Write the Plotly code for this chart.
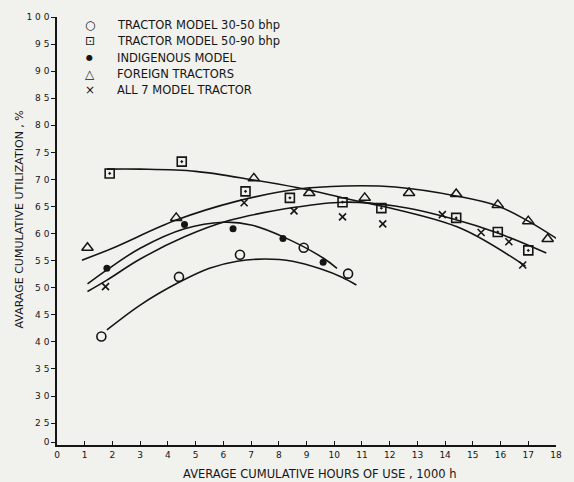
import plotly.graph_objects as go

# ---------------- data ----------------
# Tractor model 30-50 bhp (open circles)
t3050_x = [1.6, 4.4, 6.6, 8.9, 10.5]
t3050_y = [41.0, 52.0, 56.1, 57.4, 52.6]
t3050_fit_x = [1.8, 3.0, 4.4, 5.5, 6.5, 7.5, 8.5, 9.5, 10.3, 10.8]
t3050_fit_y = [42.2, 46.8, 51.0, 53.6, 54.9, 55.3, 54.9, 53.5, 51.9, 50.5]

# Tractor model 50-90 bhp (squares)
t5090_x = [1.9, 4.5, 6.8, 8.4, 10.3, 11.7, 14.4, 15.9, 17.0]
t5090_y = [71.1, 73.3, 67.8, 66.6, 65.8, 64.7, 62.9, 60.3, 56.9]
t5090_fit_x = [1.8, 3.0, 5.0, 7.1, 8.65, 10.5, 12.2, 14.6, 16.9]
t5090_fit_y = [71.9, 71.9, 71.5, 69.9, 68.5, 66.4, 64.5, 60.9, 54.0]

# Indigenous model (filled dots)
indig_x = [1.8, 4.6, 6.35, 8.15, 9.6]
indig_y = [53.6, 61.7, 60.9, 59.1, 54.7]
indig_fit_x = [1.1, 1.8, 3.0, 4.6, 6.0, 7.0, 8.2, 9.6, 10.1]
indig_fit_y = [50.7, 53.3, 57.3, 60.9, 62.1, 61.6, 59.3, 55.5, 53.6]

# Foreign tractors (open triangles)
foreign_x = [1.1, 4.3, 7.1, 9.1, 11.1, 12.7, 14.4, 15.9, 17.0, 17.7]
foreign_y = [57.4, 62.9, 70.2, 67.5, 66.6, 67.5, 67.3, 65.3, 62.3, 59.0]
foreign_fit_x = [0.9, 2.0, 4.3, 6.5, 8.65, 10.4, 12.2, 14.45, 15.9, 17.0, 18.2]
foreign_fit_y = [55.1, 57.3, 62.5, 66.0, 68.2, 68.8, 68.6, 66.9, 65.1, 62.3, 58.5]

# All 7 model tractor (crosses)
all7_x = [1.75, 6.75, 8.55, 10.3, 11.75, 13.9, 15.3, 16.3, 16.8]
all7_y = [50.2, 65.7, 64.2, 63.1, 61.8, 63.5, 60.2, 58.5, 54.2]
all7_fit_x = [1.1, 1.8, 3.0, 4.6, 6.2, 8.65, 10.3, 12.2, 14.3, 15.9, 17.65]
all7_fit_y = [49.3, 51.4, 55.3, 59.4, 62.4, 64.9, 65.8, 65.1, 62.7, 60.1, 56.4]

legend_symbols = ["○", "⊡", "●", "△", "×"]
legend_labels = ["TRACTOR MODEL 30-50 bhp", "TRACTOR MODEL 50-90 bhp",
                 "INDIGENOUS MODEL", "FOREIGN TRACTORS", "ALL 7 MODEL TRACTOR"]

y_tickvals = [21.5, 25, 30, 35, 40, 45, 50, 55, 60, 65, 70, 75, 80, 85, 90, 95, 100]
y_ticktext = ["0", "2 5", "3 0", "3 5", "4 0", "4 5", "5 0", "5 5", "6 0", "6 5",
              "7 0", "7 5", "8 0", "8 5", "9 0", "9 5", "1 0 0"]
x_tickvals = list(range(0, 19))

# ---------------- figure ----------------
INK = "#151515"
BG = "#f1f1ee"
FONT = "DejaVu Sans"

fig = go.Figure()

for fx, fy in [(t3050_fit_x, t3050_fit_y), (t5090_fit_x, t5090_fit_y),
               (indig_fit_x, indig_fit_y), (foreign_fit_x, foreign_fit_y),
               (all7_fit_x, all7_fit_y)]:
    fig.add_trace(go.Scatter(x=fx, y=fy, mode="lines",
                             line=dict(color=INK, width=1.6, shape="spline", smoothing=1.0),
                             hoverinfo="skip", showlegend=False))

fig.add_trace(go.Scatter(x=t3050_x, y=t3050_y, mode="markers", name=legend_labels[0],
                         marker=dict(symbol="circle-open", size=9, color=INK, line=dict(width=1.6))))
fig.add_trace(go.Scatter(x=t5090_x, y=t5090_y, mode="markers", name=legend_labels[1],
                         marker=dict(symbol="square-open-dot", size=9, color=INK, line=dict(width=1.6))))
fig.add_trace(go.Scatter(x=indig_x, y=indig_y, mode="markers", name=legend_labels[2],
                         marker=dict(symbol="circle", size=7, color=INK)))
fig.add_trace(go.Scatter(x=foreign_x, y=foreign_y, mode="markers", name=legend_labels[3],
                         marker=dict(symbol="triangle-up-open", size=10, color=INK, line=dict(width=1.5))))
fig.add_trace(go.Scatter(x=all7_x, y=all7_y, mode="markers", name=legend_labels[4],
                         marker=dict(symbol="x-thin-open", size=7, color=INK, line=dict(width=1.6, color=INK))))

# plot-area geometry (pixels)
W, H = 574, 482
L, R, T, B = 57, 12, 15, 37
PW, PH = W - L - R, H - T - B

def px(xp):
    return (xp - L) / PW

def py(yp):
    return 1 - (yp - T) / PH

annotations = []
rows_y = [23, 39, 56, 72, 88]
for sym, lab, ry in zip(legend_symbols, legend_labels, rows_y):
    annotations.append(dict(x=px(90), y=py(ry), xref="paper", yref="paper", text=sym,
                            showarrow=False, xanchor="center", yanchor="middle",
                            font=dict(family=FONT, size=12 if sym != "●" else 8, color=INK)))
    annotations.append(dict(x=px(116), y=py(ry), xref="paper", yref="paper", text=lab,
                            showarrow=False, xanchor="left", yanchor="middle",
                            font=dict(family=FONT, size=11.5, color=INK)))

annotations.append(dict(x=px(19), y=py(218), xref="paper", yref="paper",
                        text="AVARAGE CUMULATIVE UTILIZATION , %", textangle=-90,
                        showarrow=False, xanchor="center", yanchor="middle",
                        font=dict(family=FONT, size=11, color=INK)))
annotations.append(dict(x=px(323), y=py(474), xref="paper", yref="paper",
                        text="AVERAGE CUMULATIVE HOURS OF USE , 1000 h",
                        showarrow=False, xanchor="center", yanchor="middle",
                        font=dict(family=FONT, size=11.5, color=INK)))

fig.update_layout(
    width=W, height=H,
    margin=dict(l=L, r=R, t=T, b=B, pad=0),
    paper_bgcolor=BG, plot_bgcolor=BG,
    showlegend=False,
    font=dict(family=FONT, size=9, color=INK),
    annotations=annotations,
)
fig.update_xaxes(range=[0, 18], tickvals=x_tickvals, ticktext=[str(v) for v in x_tickvals],
                 showgrid=False, zeroline=False, showline=True, linecolor=INK, linewidth=1.6,
                 ticks="inside", ticklen=4, tickwidth=1.2, tickcolor=INK,
                 tickfont=dict(family=FONT, size=9, color=INK))
fig.update_yaxes(range=[20.96, 100], tickvals=y_tickvals, ticktext=y_ticktext,
                 showgrid=False, zeroline=False, showline=True, linecolor=INK, linewidth=1.6,
                 ticks="outside", ticklen=4, tickwidth=1.2, tickcolor=INK,
                 tickfont=dict(family=FONT, size=9, color=INK))

fig.write_html("out.html")
